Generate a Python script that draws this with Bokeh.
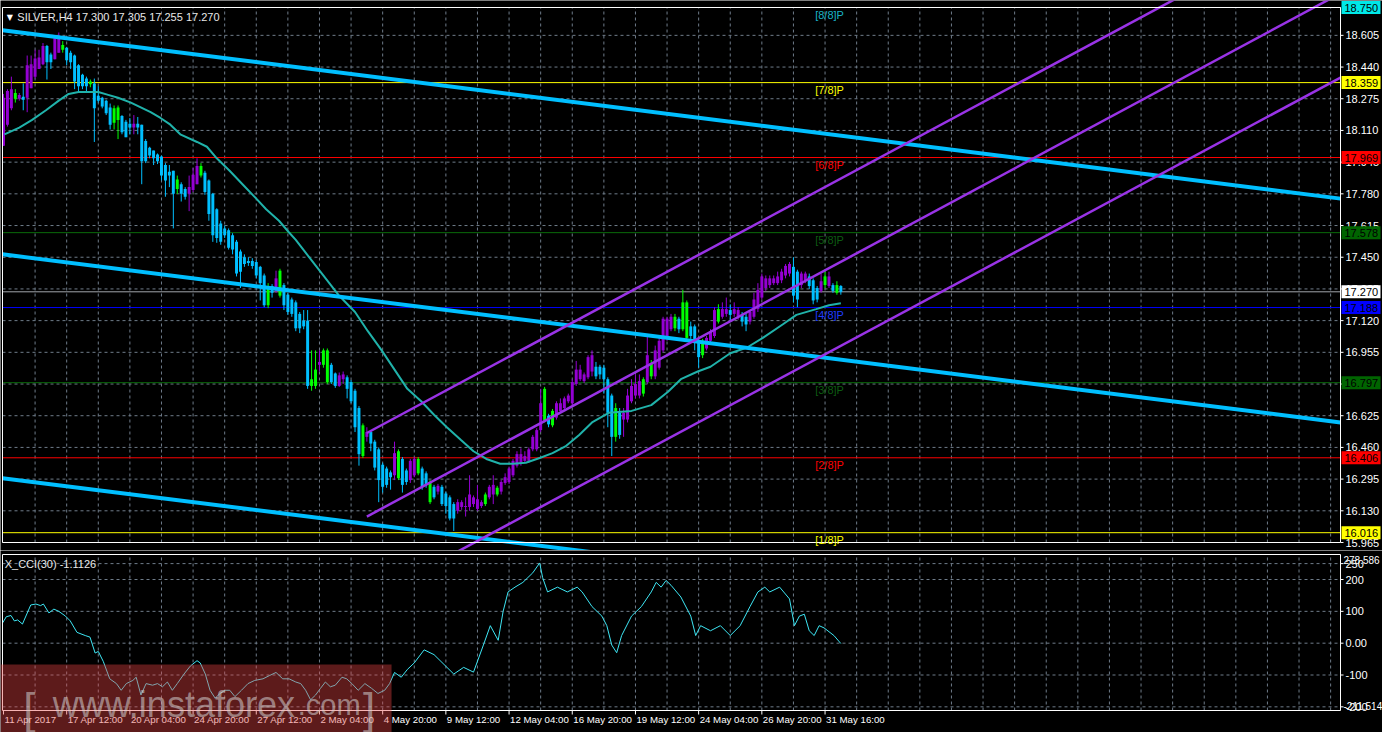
from bokeh.plotting import figure
from bokeh.layouts import column
from bokeh.models import ColumnDataSource, Label, Range1d
from bokeh.embed import file_html
from bokeh.resources import INLINE
from bokeh.core.properties import value

# ---------------- data ----------------
opens = [
    18.030, 18.140, 18.225, 18.275, 18.275, 18.285, 18.280, 18.330, 18.390, 18.430,
    18.455, 18.550, 18.505, 18.480, 18.515, 18.530, 18.540, 18.515, 18.500, 18.450,
    18.400, 18.380, 18.350, 18.355, 18.290, 18.280, 18.265, 18.230, 18.150, 18.165,
    18.185, 18.155, 18.145, 18.125, 18.145, 18.140, 18.055, 18.020, 18.005, 17.985,
    17.975, 17.930, 17.895, 17.900, 17.805, 17.830, 17.805, 17.780, 17.800, 17.830,
    17.875, 17.890, 17.850, 17.780, 17.700, 17.625, 17.600, 17.590, 17.565, 17.530,
    17.480, 17.450, 17.430, 17.430, 17.425, 17.400, 17.355, 17.200, 17.300, 17.275,
    17.250, 17.305, 17.255, 17.230, 17.215, 17.155, 17.120, 17.120, 16.780, 16.780,
    16.890, 16.890, 16.965, 16.890, 16.845, 16.780, 16.815, 16.825, 16.800, 16.755,
    16.665, 16.415, 16.515, 16.540, 16.490, 16.450, 16.370, 16.350, 16.330, 16.315,
    16.300, 16.400, 16.340, 16.290, 16.315, 16.325, 16.350, 16.325, 16.280, 16.255,
    16.230, 16.255, 16.220, 16.200, 16.165, 16.130, 16.150, 16.150, 16.150, 16.165,
    16.140, 16.155, 16.165, 16.200, 16.215, 16.215, 16.230, 16.275, 16.280, 16.315,
    16.365, 16.375, 16.390, 16.390, 16.450, 16.450, 16.550, 16.600, 16.625, 16.575,
    16.615, 16.650, 16.665, 16.700, 16.690, 16.790, 16.815, 16.805, 16.825, 16.855,
    16.880, 16.880, 16.875, 16.815, 16.730, 16.515, 16.640, 16.605, 16.605, 16.700,
    16.730, 16.730, 16.740, 16.800, 16.830, 16.830, 16.875, 16.965, 17.030, 17.075,
    17.080, 17.130, 17.075, 17.215, 17.090, 17.090, 17.015, 16.940, 16.975, 17.015,
    17.040, 17.115, 17.140, 17.155, 17.175, 17.155, 17.140, 17.150, 17.140, 17.115,
    17.140, 17.180, 17.240, 17.290, 17.305, 17.315, 17.315, 17.330, 17.355, 17.365,
    17.400, 17.375, 17.305, 17.330, 17.350, 17.330, 17.290, 17.275, 17.305, 17.300,
    17.305, 17.265, 17.300]
highs = [
    18.300, 18.325, 18.390, 18.325, 18.305, 18.355, 18.500, 18.500, 18.530, 18.530,
    18.565, 18.555, 18.515, 18.600, 18.620, 18.575, 18.545, 18.525, 18.505, 18.455,
    18.405, 18.390, 18.375, 18.380, 18.340, 18.285, 18.270, 18.250, 18.240, 18.240,
    18.190, 18.165, 18.175, 18.190, 18.180, 18.140, 18.065, 18.025, 18.005, 17.990,
    17.980, 17.940, 17.930, 17.900, 17.875, 17.840, 17.815, 17.875, 17.915, 17.965,
    17.940, 17.900, 17.855, 17.785, 17.705, 17.640, 17.615, 17.600, 17.575, 17.540,
    17.490, 17.465, 17.450, 17.445, 17.435, 17.405, 17.365, 17.315, 17.310, 17.380,
    17.390, 17.315, 17.265, 17.240, 17.225, 17.165, 17.175, 17.175, 16.965, 16.965,
    16.965, 16.975, 16.975, 16.900, 16.850, 16.850, 16.855, 16.835, 16.810, 16.765,
    16.675, 16.585, 16.565, 16.550, 16.500, 16.460, 16.380, 16.360, 16.340, 16.490,
    16.450, 16.410, 16.350, 16.400, 16.410, 16.410, 16.360, 16.335, 16.290, 16.265,
    16.270, 16.265, 16.230, 16.210, 16.175, 16.190, 16.185, 16.200, 16.315, 16.210,
    16.265, 16.185, 16.225, 16.265, 16.315, 16.260, 16.290, 16.325, 16.360, 16.400,
    16.440, 16.455, 16.440, 16.460, 16.525, 16.560, 16.765, 16.775, 16.635, 16.660,
    16.700, 16.715, 16.725, 16.740, 16.815, 16.910, 16.890, 16.850, 16.940, 16.965,
    16.905, 16.890, 16.890, 16.825, 16.740, 16.690, 16.665, 16.665, 16.765, 16.815,
    16.840, 16.840, 16.825, 17.040, 16.915, 16.990, 17.040, 17.140, 17.140, 17.155,
    17.155, 17.140, 17.280, 17.225, 17.115, 17.100, 17.025, 17.025, 17.040, 17.075,
    17.190, 17.205, 17.215, 17.240, 17.205, 17.215, 17.190, 17.165, 17.155, 17.175,
    17.265, 17.315, 17.365, 17.355, 17.355, 17.355, 17.375, 17.390, 17.415, 17.425,
    17.450, 17.385, 17.375, 17.375, 17.365, 17.340, 17.300, 17.365, 17.375, 17.375,
    17.315, 17.325, 17.305]
lows = [
    18.030, 18.130, 18.215, 18.255, 18.265, 18.215, 18.205, 18.330, 18.380, 18.430,
    18.450, 18.375, 18.430, 18.480, 18.515, 18.515, 18.450, 18.430, 18.325, 18.315,
    18.325, 18.305, 18.335, 18.050, 18.255, 18.225, 18.190, 18.115, 18.115, 18.065,
    18.090, 18.075, 18.090, 18.090, 18.090, 17.830, 17.940, 17.965, 17.930, 17.935,
    17.850, 17.765, 17.815, 17.600, 17.780, 17.740, 17.750, 17.690, 17.790, 17.830,
    17.865, 17.775, 17.640, 17.530, 17.525, 17.515, 17.550, 17.490, 17.465, 17.350,
    17.290, 17.400, 17.405, 17.390, 17.340, 17.225, 17.190, 17.185, 17.240, 17.265,
    17.240, 17.175, 17.150, 17.140, 17.065, 17.055, 17.075, 16.765, 16.755, 16.765,
    16.855, 16.875, 16.790, 16.790, 16.770, 16.775, 16.790, 16.715, 16.690, 16.540,
    16.365, 16.405, 16.490, 16.440, 16.340, 16.175, 16.225, 16.250, 16.240, 16.290,
    16.290, 16.225, 16.265, 16.275, 16.305, 16.315, 16.240, 16.250, 16.165, 16.190,
    16.215, 16.155, 16.115, 16.080, 16.025, 16.115, 16.135, 16.100, 16.130, 16.150,
    16.130, 16.145, 16.155, 16.190, 16.165, 16.205, 16.215, 16.265, 16.270, 16.305,
    16.355, 16.365, 16.380, 16.380, 16.440, 16.440, 16.540, 16.590, 16.565, 16.565,
    16.605, 16.640, 16.655, 16.690, 16.680, 16.780, 16.805, 16.795, 16.815, 16.830,
    16.815, 16.815, 16.740, 16.565, 16.415, 16.490, 16.505, 16.515, 16.590, 16.690,
    16.715, 16.715, 16.725, 16.790, 16.815, 16.815, 16.865, 16.955, 17.015, 17.065,
    17.065, 17.055, 17.065, 17.015, 17.025, 16.965, 16.875, 16.925, 16.965, 17.005,
    17.030, 17.105, 17.130, 17.140, 17.115, 17.140, 17.125, 17.090, 17.065, 17.100,
    17.130, 17.165, 17.230, 17.275, 17.290, 17.305, 17.305, 17.315, 17.340, 17.350,
    17.215, 17.190, 17.290, 17.315, 17.285, 17.205, 17.215, 17.265, 17.290, 17.290,
    17.265, 17.255, 17.255]
closes = [
    18.280, 18.315, 18.325, 18.305, 18.295, 18.270, 18.450, 18.455, 18.485, 18.490,
    18.550, 18.465, 18.465, 18.590, 18.600, 18.555, 18.475, 18.465, 18.365, 18.340,
    18.340, 18.340, 18.365, 18.225, 18.265, 18.235, 18.200, 18.140, 18.225, 18.230,
    18.100, 18.075, 18.125, 18.145, 18.125, 17.950, 17.950, 17.980, 17.965, 17.950,
    17.875, 17.850, 17.875, 17.780, 17.855, 17.780, 17.765, 17.815, 17.880, 17.925,
    17.925, 17.790, 17.675, 17.565, 17.550, 17.530, 17.565, 17.500, 17.490, 17.365,
    17.375, 17.415, 17.420, 17.405, 17.355, 17.315, 17.200, 17.300, 17.265, 17.340,
    17.380, 17.200, 17.165, 17.155, 17.080, 17.080, 17.090, 16.780, 16.815, 16.865,
    16.905, 16.965, 16.800, 16.800, 16.780, 16.835, 16.840, 16.765, 16.700, 16.565,
    16.425, 16.575, 16.540, 16.480, 16.355, 16.290, 16.255, 16.265, 16.305, 16.430,
    16.440, 16.265, 16.280, 16.390, 16.400, 16.400, 16.255, 16.265, 16.175, 16.200,
    16.260, 16.165, 16.155, 16.090, 16.090, 16.175, 16.175, 16.155, 16.215, 16.200,
    16.190, 16.175, 16.215, 16.255, 16.265, 16.250, 16.280, 16.305, 16.350, 16.390,
    16.425, 16.425, 16.415, 16.450, 16.515, 16.550, 16.690, 16.765, 16.580, 16.650,
    16.690, 16.690, 16.715, 16.730, 16.800, 16.865, 16.865, 16.840, 16.930, 16.940,
    16.830, 16.840, 16.815, 16.640, 16.515, 16.665, 16.525, 16.640, 16.730, 16.780,
    16.790, 16.805, 16.815, 16.940, 16.900, 16.965, 17.015, 17.130, 17.130, 17.140,
    17.140, 17.075, 17.215, 17.030, 17.040, 17.015, 16.930, 17.015, 17.030, 17.065,
    17.175, 17.180, 17.180, 17.180, 17.150, 17.180, 17.175, 17.115, 17.100, 17.165,
    17.230, 17.280, 17.350, 17.340, 17.340, 17.340, 17.350, 17.375, 17.405, 17.415,
    17.250, 17.230, 17.365, 17.365, 17.300, 17.225, 17.230, 17.325, 17.350, 17.350,
    17.275, 17.305, 17.270]
green_bars = [3, 15, 22, 28, 29, 44, 50, 67, 70, 78, 79, 81, 82, 91, 100, 105, 108, 122,
              125, 137, 139, 155, 162, 164, 170, 172, 173, 177, 181, 208, 211]

ma_bar = [0.25, 4, 7.25, 10.75, 14, 16.5, 19, 21.5, 24, 26.5,
          29, 32.25, 34.75, 37.25, 39.75, 42.25, 44.75, 49, 51.5, 54,
          57.25, 60.75, 64, 66.5, 69.75, 72.25, 74, 84.75, 89, 92.25,
          95.75, 99, 102.25, 105.75, 109, 112.25, 115.75, 119, 122.25, 125.75,
          129, 132.25, 135.75, 139, 142.25, 145.75, 149, 153.25, 159, 164,
          168.25, 171.5, 175.75, 179, 184, 188.25, 192.25, 197.25, 200.75, 205.75,
          209, 212]
ma_val = [18.09, 18.125, 18.165, 18.215, 18.265, 18.30, 18.31, 18.31, 18.31, 18.295,
          18.28, 18.255, 18.23, 18.205, 18.175, 18.14, 18.09, 18.05, 18.025, 17.965,
          17.90, 17.825, 17.755, 17.70, 17.64, 17.58, 17.54, 17.255, 17.165, 17.065,
          16.965, 16.865, 16.765, 16.70, 16.63, 16.565, 16.50, 16.44, 16.40, 16.375,
          16.375, 16.38, 16.405, 16.43, 16.465, 16.525, 16.59, 16.64, 16.65, 16.68,
          16.75, 16.815, 16.855, 16.88, 16.95, 16.98, 17.03, 17.10, 17.15, 17.18,
          17.20, 17.21]

cci_bar = [-0.2, 0.7, 1.9, 2.75, 3.6, 4.8, 6.9, 8.2, 9.4, 10.1,
           11.5, 12.75, 14, 15.7, 16.9, 18.6, 20.7, 21.9, 23.2, 24,
           25.25, 26.9, 28.6, 29.8, 31.1, 32.75, 33.6, 34.8, 36.1, 37.75,
           39, 40.25, 41.5, 42.75, 44, 45.7, 47.3, 49, 49.8, 51.1,
           52.3, 53.6, 54.8, 56.1, 57.3, 58.6, 60.25, 61.9, 63.6, 65.7,
           67.3, 69, 70.7, 72.3, 74, 75.25, 76.5, 77.75, 79, 80.25,
           81.5, 82.75, 84, 85.7, 86.9, 88.2, 89.8, 91.5, 93.2, 94.8,
           96.5, 97.75, 99, 100.7, 102.3, 104, 106.5, 109, 114, 116.5,
           119, 121.5, 123.25, 125.25, 126.5, 127.75, 129.5, 131.5, 134, 135.75,
           136.5, 137.75, 140.25, 142.75, 145.25, 146.5, 149, 151.5, 152.75, 154,
           155.25, 156.5, 159, 161.5, 164, 165.25, 166.5, 167.75, 169, 171.5,
           174, 175.25, 176.5, 179, 181.5, 184, 186.5, 189, 191, 192.75,
           194, 196.5, 199, 200.25, 201.5, 202.75, 204, 205.25, 206.5, 207.75,
           210.25, 212]
cci_val = [64, 83, 87, 70, 73, 60, 120, 123, 118, 123,
           95, 107, 100, 85, 70, 34, 24, 19, -31, -26,
           -57, -112, -127, -148, -127, -117, -107, -163, -127, -132,
           -127, -137, -122, -148, -127, -97, -72, -55, -62, -97,
           -148, -173, -158, -148, -148, -168, -148, -127, -117, -112,
           -102, -92, -112, -112, -122, -127, -148, -178, -163, -142,
           -122, -137, -132, -107, -112, -127, -148, -127, -142, -158,
           -148, -127, -92, -107, -82, -62, -21, -36, -97, -76,
           -91, -6, 55, 9, 100, 161, 176, 191, 221, 252,
           206, 161, 176, 161, 176, 161, 115, 85, 55, -6,
           -30, 24, 85, 115, 161, 191, 176, 197, 182, 145,
           85, 24, 55, 39, 55, 24, 55, 115, 161, 176,
           161, 176, 139, 55, 85, 91, 39, 24, 55, 48,
           24, -1.1126]

date_bars = [0, 16, 32, 48, 64, 80, 96, 112, 128, 144, 160, 176, 192, 208]
date_labels = ["11 Apr 2017", "17 Apr 12:00", "20 Apr 04:00", "24 Apr 20:00", "27 Apr 12:00",
               "2 May 04:00", "4 May 20:00", "9 May 12:00", "12 May 04:00", "16 May 20:00",
               "19 May 12:00", "24 May 04:00", "26 May 20:00", "31 May 16:00"]
price_ticks = [15.965, 16.130, 16.295, 16.460, 16.625, 16.790, 16.955, 17.120, 17.285,
               17.450, 17.615, 17.780, 17.945, 18.110, 18.275, 18.440, 18.605]
cci_ticks = [-200, -100, 0, 100, 200, 250]
cci_tick_labels = ["-200", "-100", "0.00", "100", "200", "250"]
cci_min, cci_max = -211.514, 278.586
price_min, price_max = 15.965, 18.750
bar_first, bar_last = -0.25, 338.5

murrey_levels = [18.750, 18.359, 17.969, 17.578, 17.188, 16.797, 16.406, 16.016]
murrey_names = ["[8/8]P", "[7/8]P", "[6/8]P", "[5/8]P", "[4/8]P", "[3/8]P", "[2/8]P", "[1/8]P"]
current_price = 17.270
mark_levels = [18.750, 18.359, 17.969, 17.578, 17.270, 17.188, 16.797, 16.406, 16.016]
title_text = "SILVER,H4  17.300 17.305 17.255 17.270"
cci_text = "X_CCI(30) -1.1126"

# trend channel end points (bar index, price)
blue_x = [-0.25, 338.5]
blue_upper = [18.632, 17.755]
blue_middle = [17.465, 16.590]
blue_lower = [16.300, 15.425]
violet_x = [92, 338.5]
violet_upper = [16.535, 19.256]
violet_middle = [16.100, 18.824]
violet_lower = [15.664, 18.385]

# ---------------- layout / styling ----------------
FONT = "Liberation Sans"
PURPLE = "#9400D3"
BLUE = "#00BFFF"
LIME = "#00FF00"
GRID = "#6f7c8a"
murrey_line_colors = ["#b0ffff", "#FFFF00", "#FF0000", "#0a6a0a", "#0000FF", "#0a6a0a", "#FF0000", "#FFFF00"]
murrey_text_colors = ["#19b3c6", "#FFFF00", "#FF0000", "#0d5c12", "#1f3cff", "#0d5c12", "#FF0000", "#FFFF00"]
mark_bg = ["#00e8e8", "#FFFF00", "#FF0000", "#006400", "#FFFFFF", "#0000FF", "#006400", "#FF0000", "#FFFF00"]

PAD_L, CHART_W, AXIS_W = 2, 1338, 42
FW = PAD_L + CHART_W + AXIS_W
bpp = (bar_last - bar_first) / CHART_W          # bars per pixel
x_rng = Range1d(bar_first - PAD_L * bpp, bar_last + AXIS_W * bpp)
grid_bars = list(range(8, 339, 8))

MAIN_CH, M_TOP, M_BOT = 535, 7, 8
ppp = (price_max - price_min) / MAIN_CH        # price per pixel
CCI_CH, C_TOP, C_BOT = 156, 4, 22
upp = (cci_max - cci_min) / CCI_CH             # cci units per pixel


def base_fig(h, yr):
    f = figure(frame_width=FW, frame_height=h, x_range=x_rng, y_range=yr,
               output_backend="svg", toolbar_location=None,
               x_axis_location=None, y_axis_location=None, min_border=0)
    f.background_fill_color = "black"
    f.border_fill_color = "black"
    f.outline_line_color = None
    f.grid.visible = False
    return f


def grid_lines(f, ylo, yhi, yticks):
    f.segment(x0=[bar_first] * len(yticks), y0=yticks, x1=[bar_last] * len(yticks), y1=yticks,
              line_color=GRID, line_width=1, line_dash="3 3")
    f.segment(x0=grid_bars, y0=[ylo] * len(grid_bars), x1=grid_bars, y1=[yhi] * len(grid_bars),
              line_color=GRID, line_width=1, line_dash="3 3")


def frame_lines(f, ylo, yhi):
    f.segment(x0=[bar_first, bar_first, bar_first, bar_last],
              y0=[ylo, yhi, ylo, ylo],
              x1=[bar_last, bar_last, bar_first, bar_last],
              y1=[ylo, yhi, yhi, yhi], line_color="white", line_width=1)


def right_ticks(f, yticks, labels):
    f.segment(x0=[bar_last] * len(yticks), y0=yticks, x1=[bar_last + 3 * bpp] * len(yticks),
              y1=yticks, line_color="white", line_width=1)
    f.text(x=[bar_last + 5 * bpp] * len(yticks), y=yticks, text=labels,
           text_color="white", text_font=value(FONT), text_font_size="11px",
           text_baseline="middle", text_align="left")


# ---------------- main price panel ----------------
p = base_fig(M_TOP + MAIN_CH + M_BOT,
             Range1d(price_min - M_BOT * ppp, price_max + M_TOP * ppp))
grid_lines(p, price_min, price_max, price_ticks)

p.segment(x0=[bar_first] * len(murrey_levels), y0=murrey_levels,
          x1=[bar_last] * len(murrey_levels), y1=murrey_levels,
          line_color=murrey_line_colors, line_width=1)
p.segment(x0=[bar_first], y0=[current_price], x1=[bar_last], y1=[current_price],
          line_color="#a0a4aa", line_width=1)

n = len(opens)
colors = []
for i in range(n):
    if i in green_bars:
        colors.append(LIME)
    elif closes[i] >= opens[i]:
        colors.append(PURPLE)
    else:
        colors.append(BLUE)
src = ColumnDataSource(dict(
    x=list(range(n)), o=opens, h=highs, l=lows, c=closes,
    top=[max(a, b) for a, b in zip(opens, closes)],
    bot=[min(a, b) for a, b in zip(opens, closes)],
    col=colors))
p.segment(x0="x", y0="l", x1="x", y1="h", line_color="col", line_width=1, source=src)
p.vbar(x="x", width=0.75, top="top", bottom="bot", fill_color="col", line_color=None, source=src)

p.line(ma_bar, ma_val, line_color="#20B2AA", line_width=2)

for ys in (blue_upper, blue_middle, blue_lower):
    p.line(blue_x, ys, line_color="#00BFFF", line_width=4)
for ys in (violet_upper, violet_middle, violet_lower):
    p.line(violet_x, ys, line_color="#9933E6", line_width=2.5)

frame_lines(p, price_min, price_max)
right_ticks(p, price_ticks, [f"{t:.3f}" for t in price_ticks])

for lvl, name, tc in zip(murrey_levels, murrey_names, murrey_text_colors):
    p.add_layout(Label(x=205.5, y=lvl - 1 * ppp, text=name, text_color=tc,
                       text_font=FONT, text_font_size="11px", text_baseline="top", text_align="left"))

# coloured price marks on the price scale
p.quad(left=[bar_last + 1 * bpp] * len(mark_levels), right=[bar_last + 40 * bpp] * len(mark_levels),
       top=[v + 6.5 * ppp for v in mark_levels], bottom=[v - 6.5 * ppp for v in mark_levels],
       fill_color=mark_bg, line_color=None)
p.text(x=[bar_last + 4 * bpp] * len(mark_levels), y=mark_levels,
       text=[f"{v:.3f}" for v in mark_levels], text_color="black", text_font=value(FONT),
       text_font_size="11px", text_baseline="middle", text_align="left")

p.add_layout(Label(x=0.8, y=price_max - 5 * ppp, text="\u25bc", text_color="white",
                   text_font="DejaVu Sans", text_font_size="8px", text_baseline="top"))
p.add_layout(Label(x=3.5, y=price_max - 3 * ppp, text=title_text, text_color="#e8e8e8",
                   text_font=FONT, text_font_size="11px", text_baseline="top"))

# ---------------- CCI panel ----------------
p2 = base_fig(C_TOP + CCI_CH + C_BOT,
              Range1d(cci_min - C_BOT * upp, cci_max + C_TOP * upp))
grid_lines(p2, cci_min, cci_max, cci_ticks)
p2.line(cci_bar, cci_val, line_color="#3ee6f4", line_width=1)
frame_lines(p2, cci_min, cci_max)
right_ticks(p2, cci_ticks, cci_tick_labels)
p2.text(x=[bar_last + 3 * bpp] * 2, y=[cci_max - 1 * upp, cci_min + 1 * upp],
        text=[f"{cci_max:.3f}", f"{cci_min:.3f}"], text_color="white",
        text_font=value(FONT), text_font_size="10px",
        text_baseline=["top", "bottom"], text_align="left")

# time axis
p2.segment(x0=date_bars, y0=[cci_min] * len(date_bars), x1=date_bars,
           y1=[cci_min - 4 * upp] * len(date_bars), line_color="white", line_width=1)
p2.text(x=[b + 1 * bpp for b in date_bars], y=[cci_min - 3 * upp] * len(date_bars),
        text=date_labels, text_color="white", text_font=value(FONT), text_font_size="9.7px",
        text_baseline="top", text_align="left")

p2.add_layout(Label(x=0.3, y=cci_max - 3 * upp, text=cci_text, text_color="#e8e8e8",
                    text_font=FONT, text_font_size="11px", text_baseline="top"))

# watermark overlay
p2.quad(left=[bar_first - PAD_L * bpp], right=[98.25], top=[-66.7],
        bottom=[cci_min - C_BOT * upp], fill_color="#e84444", fill_alpha=0.4, line_color=None)
WM = "#d4d4d4"
p2.add_layout(Label(x=5.0, y=-205, text="[", text_color=WM, text_alpha=0.55, text_font=FONT,
                    text_font_size="44px", text_baseline="alphabetic"))
p2.add_layout(Label(x=12.5, y=-194, text="www.instaforex", text_color=WM, text_alpha=0.55,
                    text_font=FONT, text_font_size="36px", text_baseline="alphabetic"))
p2.add_layout(Label(x=74.5, y=-194, text=".com", text_color=WM, text_alpha=0.55,
                    text_font=FONT, text_font_size="29px", text_baseline="alphabetic"))
p2.add_layout(Label(x=91.0, y=-205, text="]", text_color=WM, text_alpha=0.55, text_font=FONT,
                    text_font_size="44px", text_baseline="alphabetic"))

layout = column(p, p2)
open("out.html", "w").write(file_html(layout, INLINE))
